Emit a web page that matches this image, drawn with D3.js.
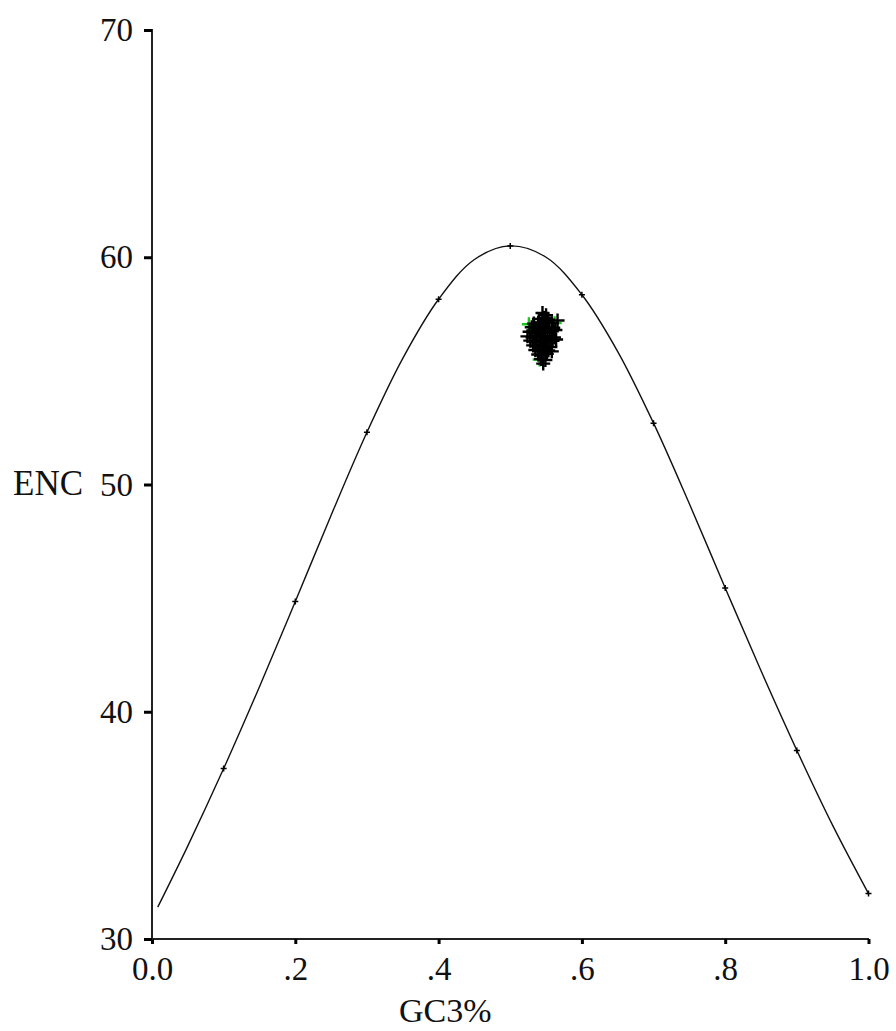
<!DOCTYPE html>
<html><head><meta charset="utf-8">
<script src="https://cdn.jsdelivr.net/npm/d3@7"></script>
<style>body{margin:0;background:#fff}text{font-family:"Liberation Serif","Times New Roman",serif;fill:#111}</style>
</head><body>
<script>
// expected-curve points
const curveGC3 = [0.008,0.05,0.1,0.15,0.2,0.25,0.3,0.35,0.4,0.45,0.5,0.55,0.6,0.65,0.7,0.75,0.8,0.85,0.9,0.95,1.0];
const curveENC = [31.4,34.1,37.5,41.1,44.85,48.65,52.3,55.55,58.15,59.9,60.5,60.0,58.35,55.85,52.7,49.15,45.45,41.8,38.3,35.0,32.0];
// small markers on curve
const markGC3 = [0.1,0.2,0.3,0.4,0.5,0.6,0.7,0.8,0.9,1.0];
const markENC = [37.5,44.85,52.3,58.15,60.5,58.35,52.7,45.45,38.3,32.0];
// gene points (GC3, ENC)
const geneGC3 = [
 0.545,0.550,
 0.540,0.547,0.553,
 0.533,0.539,0.545,0.551,0.558,0.566,
 0.530,0.536,0.542,0.548,0.554,0.560,
 0.527,0.534,0.540,0.546,0.552,0.558,0.563,
 0.524,0.531,0.537,0.543,0.549,0.555,0.561,
 0.528,0.535,0.541,0.547,0.553,0.559,0.564,
 0.532,0.538,0.544,0.550,0.556,
 0.535,0.541,0.547,0.553,0.558,
 0.539,0.545,0.551,
 0.543,0.549,
 0.546];
const geneENC = [
 57.55,57.45,
 57.28,57.33,57.25,
 57.08,57.12,57.05,57.15,57.10,57.22,
 56.92,56.88,56.95,56.85,56.93,56.90,
 56.72,56.68,56.75,56.70,56.66,56.74,56.80,
 56.52,56.48,56.55,56.50,56.45,56.53,56.47,
 56.33,56.28,56.35,56.30,56.25,56.32,56.38,
 56.12,56.08,56.15,56.10,56.05,
 55.92,55.88,55.95,55.90,55.86,
 55.72,55.68,55.75,
 55.52,55.48,
 55.32];
const greenGC3 = [0.526,0.562,0.541];
const greenENC = [57.05,57.1,55.5];
const xTicks = [0,0.2,0.4,0.6,0.8,1.0];
const xTickLabels = ["0.0",".2",".4",".6",".8","1.0"];
const yTicks = [30,40,50,60,70];

const W=896,H=1031;
const svg=d3.select("body").append("svg").attr("width",W).attr("height",H);
const x=d3.scaleLinear().domain([0,1]).range([152,868.5]);
const y=d3.scaleLinear().domain([30,70]).range([939,30]);
const FS=33;

// axes
const xAxis=d3.axisBottom(x).tickValues(xTicks).tickFormat((d,i)=>xTickLabels[i]).tickSize(5).tickPadding(13);
const gx=svg.append("g").attr("transform","translate(0,939)").call(xAxis);
gx.attr("font-size",FS).attr("font-family",null);
gx.select(".domain").attr("stroke","#222").attr("stroke-width",2).attr("d","M151,0H869");
gx.selectAll(".tick line").attr("stroke","#000").attr("stroke-width",3);
gx.selectAll(".tick text").attr("fill","#111");

const yAxis=d3.axisLeft(y).tickValues(yTicks).tickSize(8).tickPadding(11);
const gy=svg.append("g").attr("transform","translate(152,0)").call(yAxis);
gy.attr("font-size",FS).attr("font-family",null);
gy.select(".domain").attr("stroke","#222").attr("stroke-width",2).attr("d","M0,29V940");
gy.selectAll(".tick line").attr("stroke","#000").attr("stroke-width",3);
gy.selectAll(".tick text").attr("fill","#111");

svg.append("text").attr("x",13).attr("y",y(50)+10).attr("font-size",FS+2).text("ENC");
svg.append("text").attr("x",399).attr("y",1022).attr("font-size",FS+1).text("GC3%");

// curve
const pts=curveGC3.map((g,i)=>[g,curveENC[i]]);
svg.append("path").datum(pts).attr("fill","none").attr("stroke","#111").attr("stroke-width",1.4)
  .attr("d",d3.line().x(d=>x(d[0])).y(d=>y(d[1])).curve(d3.curveCatmullRom.alpha(0.5)));
const mk=markGC3.map((g,i)=>[g,markENC[i]]);
svg.selectAll(".mk").data(mk).enter().append("path").attr("stroke","#000").attr("stroke-width",1.5)
  .attr("d",d=>{const cx=x(d[0]),cy=y(d[1]);return `M${cx-3},${cy}H${cx+3}M${cx},${cy-3}V${cy+3}`;});

function plus(sel,col){
  sel.attr("stroke",col).attr("stroke-width",2.4)
   .attr("d",d=>{const cx=x(d[0]),cy=y(d[1]);return `M${cx-7},${cy}H${cx+7}M${cx},${cy-7}V${cy+7}`;});
}
const gr=greenGC3.map((g,i)=>[g,greenENC[i]]);
const gn=geneGC3.map((g,i)=>[g,geneENC[i]]);
svg.selectAll(".gr").data(gr).enter().append("path").call(plus,"#19c619");
svg.selectAll(".gn").data(gn).enter().append("path").call(plus,"#000");
</script>
</body></html>
